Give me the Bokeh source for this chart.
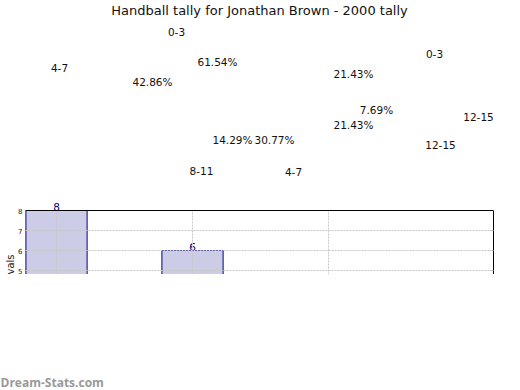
from bokeh.plotting import figure
from bokeh.models import Range1d, ColumnDataSource, Label, LinearAxis, FixedTicker, Span, Title
from bokeh.layouts import column
from bokeh.embed import file_html
from bokeh.resources import INLINE

# ---------------- data ----------------
title_text = "Handball tally for Jonathan Brown - 2000 tally"
pie1_cats = ["0-3", "4-7", "8-11", "12-15"]
pie1_vals = [6, 2, 3, 3]
pie2_cats = ["0-3", "4-7", "12-15"]
pie2_vals = [8, 4, 1]
bar_x = [0, 1]
bar_vals = [8, 6]
bar_x_ticks = [0, 1, 2]
bar_y_ticks = [5, 6, 7, 8]
y_label = "vals"
watermark = "Dream-Stats.com"

# ---------------- layout (page pixel positions of the pie labels) ----------------
pie1_cat_pos = [(176, 31), (59, 67), (201, 170), (440, 144)]
pie1_pct_pos = [(152, 81), (232, 139), (353, 73), (353, 124)]
pie2_cat_pos = [(434, 53), (293, 171), (478, 116)]
pie2_pct_pos = [(217, 61), (274, 139), (376, 109)]

FONT = "DejaVu Sans"
W = 520
LEFT, RIGHT = 25, 27          # frame borders shared by all stacked figures
FX0, FX1 = LEFT, W - RIGHT    # frame in page pixels
Y_MIN, Y_MAX = 4.8, 8.0       # visible value range of the bar panel
Y_HEAD = 0.6                  # room above the panel for the value labels
GRID_COLOR = "#c8c8c8"
GRID_DASH = "2 1"


def blank(h, top, bottom):
    f = figure(width=W, height=h, x_range=Range1d(FX0, FX1), y_range=Range1d(bottom, top),
               output_backend="svg", toolbar_location=None,
               x_axis_location=None, y_axis_location=None,
               min_border_left=LEFT, min_border_right=RIGHT, min_border_top=0, min_border_bottom=0)
    f.grid.visible = False
    f.outline_line_color = None
    f.background_fill_color = "white"
    f.border_fill_color = "white"
    return f


def pct(vals):
    s = sum(vals)
    return [f"{v / s * 100:.2f}%" for v in vals]


# ---------------- top: title + pie labels ----------------
top = blank(198, 0, 198)
top.add_layout(Label(x=259, y=10, text=title_text, text_font=FONT, text_font_size="13px",
                     text_align="center", text_baseline="middle", text_color="#111111"))

texts = pie1_cats + pct(pie1_vals) + pie2_cats + pct(pie2_vals)
pos = pie1_cat_pos + pie1_pct_pos + pie2_cat_pos + pie2_pct_pos
for t, (x, y) in zip(texts, pos):
    top.add_layout(Label(x=x, y=y, text=t, text_font=FONT, text_font_size="10.5px",
                         text_align="center", text_baseline="middle", text_color="#111111"))

# ---------------- middle: bar chart ----------------
bar = figure(width=W, height=76, x_range=Range1d(-0.228, 3.213),
             y_range=Range1d(Y_MIN, Y_MAX + Y_HEAD),
             output_backend="svg", toolbar_location=None, x_axis_location=None,
             min_border_left=LEFT, min_border_right=RIGHT, min_border_top=0, min_border_bottom=0)
bar.outline_line_color = None
bar.background_fill_color = "white"
bar.border_fill_color = "white"

ax_left = bar.yaxis[0]
ax_left.ticker = FixedTicker(ticks=bar_y_ticks)
ax_left.axis_line_color = None
ax_left.major_tick_in = 3
ax_left.major_tick_out = 0
ax_left.major_tick_line_color = "#aaaaaa"
ax_left.minor_tick_line_color = None
ax_left.major_label_text_font_size = "7px"
ax_left.major_label_text_font = FONT
ax_left.major_label_text_color = "#222222"
ax_left.major_label_standoff = 3

ax_right = LinearAxis(ticker=FixedTicker(ticks=bar_y_ticks), axis_line_color="black",
                      bounds=(Y_MIN, Y_MAX),
                      major_tick_in=3, major_tick_out=0, major_tick_line_color="#aaaaaa",
                      minor_tick_line_color=None, major_label_text_font_size="0px",
                      major_label_standoff=0)
bar.add_layout(ax_right, "right")
bar.add_layout(Title(text=y_label, align="left", text_font=FONT, text_font_size="10px",
                     text_font_style="normal", text_color="#222222", standoff=0), "left")

bar.xgrid.ticker = FixedTicker(ticks=bar_x_ticks)
bar.ygrid.ticker = FixedTicker(ticks=bar_y_ticks)
bar.grid.grid_line_color = GRID_COLOR
bar.grid.grid_line_dash = GRID_DASH
bar.grid.level = "overlay"
try:
    bar.xgrid[0].cross_bounds = (Y_MIN, Y_MAX)
except Exception:
    bar.xgrid.visible = False
    bar.segment(x0=bar_x_ticks, x1=bar_x_ticks, y0=[Y_MIN] * len(bar_x_ticks),
                y1=[Y_MAX] * len(bar_x_ticks), line_color=GRID_COLOR, line_dash=GRID_DASH,
                level="overlay")

bsrc = ColumnDataSource(dict(x=bar_x, top=bar_vals))
# fill below the dotted grid, outline above it
bar.vbar(x="x", top="top", bottom=0, width=0.45, source=bsrc,
         fill_color="#CCCCE6", line_color=None)
bar.vbar(x="x", top="top", bottom=0, width=0.45, source=bsrc,
         fill_color=None, line_color="#00008B", line_width=1, level="overlay")

bar.add_layout(Span(location=Y_MAX, dimension="width", line_color="black", line_width=1,
                    level="overlay"))

for bx, bv in zip(bar_x, bar_vals):
    bar.add_layout(Label(x=bx, y=bv, y_offset=4, text=str(bv), text_align="center",
                         text_baseline="middle", text_font=FONT,
                         text_font_size="10.5px", text_color="#000080"))

# ---------------- bottom: watermark ----------------
bot = blank(116, 274, 390)
bot.add_layout(Title(text=watermark, align="left", offset=-LEFT, text_font="Open Sans",
                     text_font_style="bold", text_font_size="12px", text_color="#999999",
                     standoff=0), "below")

p = column(top, bar, bot, spacing=0)
open("out.html", "w").write(file_html(p, INLINE))
